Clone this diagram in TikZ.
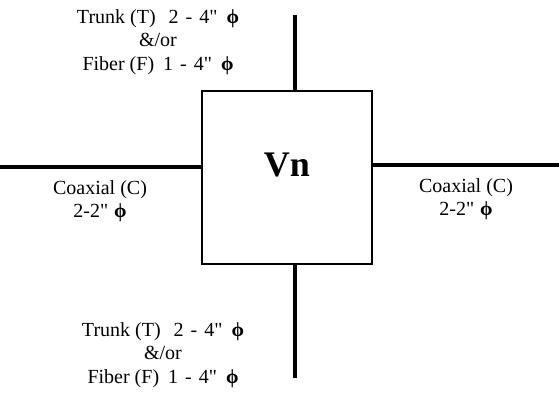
\documentclass[tikz,border=0pt]{standalone}
\usepackage{fontspec}
\setmainfont{Liberation Serif}
\usepackage{tikz}
\usetikzlibrary{positioning,calc}
\newcommand{\inch}{\textquotedbl}
\newcommand{\dia}{\hspace{0.45em}\textbf{ϕ}}

\begin{document}
\begin{tikzpicture}[x=0.75pt, y=-0.75pt,
  vault/.style={draw, line width=1.8pt, minimum width=127.5pt, minimum height=129.75pt, inner sep=0pt},
  vaultname/.style={font=\fontsize{27}{30}\selectfont\bfseries},
  duct/.style={line width=2.6pt},
  tag/.style={align=center, font=\fontsize{15}{17.5}\selectfont, inner sep=0pt}]

\useasboundingbox (0,0) rectangle (559,392);

\node[vault] (vn) at (287,177.5) {};
\node[vaultname] (vnname) at (287,165) {Vn};

\coordinate (topend) at (295,15);
\coordinate (botend) at (295,378);
\coordinate (leftend) at (0,167);
\coordinate (rightend) at (559,165);

\draw[duct] (vn.north -| topend) -- (topend);
\draw[duct] (vn.south -| botend) -- (botend);
\draw[duct] (vn.west |- leftend) -- (leftend);
\draw[duct] (vn.east |- rightend) -- (rightend);

\node[tag] (toptag) at (158,42) {Trunk (T)\hspace{0.65em}2\hspace{0.35em}-\hspace{0.35em}4\inch\dia\\\&/or\\Fiber (F)\hspace{0.45em}1\hspace{0.35em}-\hspace{0.35em}4\inch\dia};
\node[tag] (bottag) at (163,355) {Trunk (T)\hspace{0.65em}2\hspace{0.35em}-\hspace{0.35em}4\inch\dia\\\&/or\\Fiber (F)\hspace{0.45em}1\hspace{0.35em}-\hspace{0.35em}4\inch\dia};
\node[tag] (lefttag) at (100,201) {Coaxial (C)\\2-2\inch\hspace{0.3em}\textbf{ϕ}};
\node[tag] (righttag) at (466,199) {Coaxial (C)\\2-2\inch\hspace{0.3em}\textbf{ϕ}};
\end{tikzpicture}
\end{document}
